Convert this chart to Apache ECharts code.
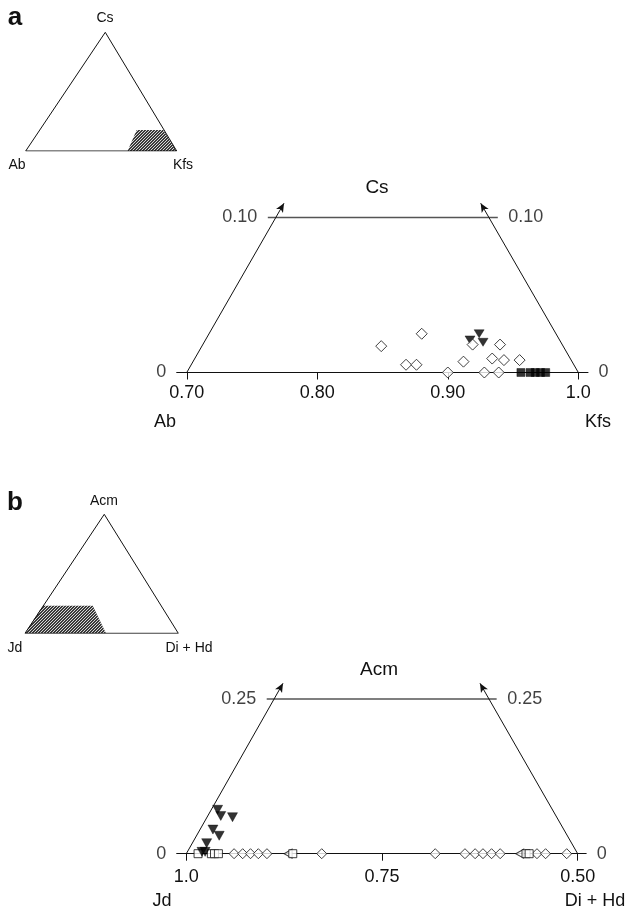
<!DOCTYPE html>
<html>
<head>
<meta charset="utf-8">
<script src="https://cdn.jsdelivr.net/npm/echarts@6/dist/echarts.min.js"></script>
<style>
  html, body { margin: 0; padding: 0; background: #fff; }
  #chart { width: 632px; height: 910px; }
</style>
</head>
<body>
<div id="chart"></div>
<script>
// ---------- Panel a: Ab – Kfs – Cs (alkali feldspar) ----------
const aTickValues = [0.70, 0.80, 0.90, 1.0];
const aTickLabels = ['0.70', '0.80', '0.90', '1.0'];
const aCsLabels = ['0', '0.10'];
// [Kfs position along base, Cs]
const aDiamonds = [
  [0.849, 0.017], [0.880, 0.025], [0.868, 0.005], [0.876, 0.005],
  [0.900, 0.000], [0.912, 0.007], [0.919, 0.018], [0.940, 0.018],
  [0.934, 0.009], [0.943, 0.008], [0.955, 0.008], [0.928, 0.000],
  [0.939, 0.000]
];
const aTriangles = [[0.917, 0.021], [0.924, 0.025], [0.927, 0.0195]];
const aSquares = [[0.956, 0], [0.963, 0], [0.967, 0], [0.971, 0], [0.975, 0]];

// ---------- Panel b: Jd – Di+Hd – Acm (pyroxene) ----------
const bTickValues = [1.0, 0.75, 0.50];
const bTickLabels = ['1.0', '0.75', '0.50'];
const bAcmLabels = ['0', '0.25'];
// [Jd position along base, Acm]
const bTriangles = [
  [0.960, 0.071], [0.956, 0.061], [0.941, 0.059], [0.966, 0.039],
  [0.958, 0.029], [0.974, 0.017], [0.980, 0.003], [0.976, 0.003]
];
const bSquares = [[0.985, 0], [0.968, 0], [0.964, 0], [0.959, 0], [0.864, 0], [0.566, 0], [0.562, 0]];
const bLeftTriangles = [[0.870, 0], [0.574, 0]];
const bDiamonds = [
  [0.939, 0], [0.928, 0], [0.918, 0], [0.908, 0], [0.897, 0],
  [0.827, 0], [0.682, 0], [0.644, 0], [0.631, 0], [0.621, 0],
  [0.610, 0], [0.599, 0], [0.552, 0], [0.541, 0], [0.514, 0]
];

// ---------- Diagram frames (data units of each panel) ----------
const aFrame = { base: [0.6923, 1.0074], top: [0.7621, 0.9383], level: 0.10,
  feet: [0.70, 1.0], tips: [[0.7745, 0.1092], [0.9252, 0.1092]] };
const bFrame = { base: [0.4891, 1.0123], top: [0.8973, 0.6035], level: 0.25,
  feet: [1.0, 0.50], tips: [[0.8765, 0.2754], [0.6248, 0.2754]] };

// Inset ternary sketches (normalised base/height units)
const insetA = { triangle: [[0, 0], [1, 0], [0.527, 1], [0, 0]],
  field: [[0.675, 0], [0.735, 0.177], [0.911, 0.177], [1, 0]] };
const insetB = { triangle: [[0, 0], [1, 0], [0.517, 1], [0, 0]],
  field: [[0, 0], [0.116, 0.232], [0.442, 0.232], [0.528, 0]] };

const FONT = '"Liberation Sans", Arial, Helvetica, sans-serif';
const INK = '#111';

function nearestLabel(values, labels, v) {
  let best = 0;
  values.forEach((t, i) => { if (Math.abs(t - v) < Math.abs(values[best] - v)) best = i; });
  return labels[best];
}

// fine stipple used for the shaded composition fields
function stipple() {
  const c = document.createElement('canvas');
  c.width = 3; c.height = 3;
  const g = c.getContext('2d');
  g.fillStyle = '#3a3a3a'; g.fillRect(0, 0, 3, 3);
  g.fillStyle = '#d8d8d8';
  g.fillRect(0, 0, 1, 1); g.fillRect(2, 1, 1, 1); g.fillRect(1, 2, 1, 1);
  return c;
}
const stipplePattern = { image: stipple(), repeat: 'repeat' };

function baseAxis(gridIndex, frame, inverse, ticks, labels, margin) {
  return {
    type: 'value', gridIndex, inverse,
    min: Math.min(frame.base[0], frame.base[1]),
    max: Math.max(frame.base[0], frame.base[1]),
    axisLine: { show: true, onZero: false, lineStyle: { color: INK, width: 1 } },
    axisTick: { show: true, customValues: ticks, length: 7, lineStyle: { color: INK, width: 1 } },
    axisLabel: {
      show: true, customValues: ticks, margin, color: INK, fontSize: 18, fontFamily: FONT,
      formatter: v => nearestLabel(ticks, labels, v)
    },
    splitLine: { show: false }
  };
}
function hiddenAxis(gridIndex, min, max) {
  return { type: 'value', gridIndex, min, max, show: false, splitLine: { show: false } };
}

function frameSeries(idx, frame, levelLabels) {
  const lo = Math.min(frame.base[0], frame.base[1]);
  const hi = Math.max(frame.base[0], frame.base[1]);
  const leftBase = frame.feet[0] > frame.feet[1] ? hi : lo;
  const rightBase = leftBase === hi ? lo : hi;
  const lbl = (pos, text) => ({ show: true, position: pos, distance: 10, formatter: text,
    color: INK, fontSize: 18, fontFamily: FONT });
  return [
    {
      type: 'line', name: 'frame-top', xAxisIndex: idx, yAxisIndex: idx,
      data: [[frame.top[0], frame.level], [frame.top[1], frame.level]],
      symbol: 'none', silent: true, animation: false,
      lineStyle: { color: '#555', width: 1.6 },
      markLine: {
        silent: true, animation: false, symbol: ['none', 'arrow'], symbolSize: [6, 9],
        lineStyle: { color: INK, width: 1, type: 'solid' }, label: { show: false },
        data: [
          [{ coord: [frame.feet[0], 0] }, { coord: frame.tips[0] }],
          [{ coord: [frame.feet[1], 0] }, { coord: frame.tips[1] }]
        ]
      }
    },
    {
      type: 'scatter', name: 'frame-labels', xAxisIndex: idx, yAxisIndex: idx,
      symbolSize: 1, itemStyle: { color: 'rgba(0,0,0,0)' }, silent: true, animation: false,
      data: [
        { value: [leftBase, 0], label: lbl('left', levelLabels[0]) },
        { value: [rightBase, 0], label: lbl('right', levelLabels[0]) },
        { value: [frame.top[0], frame.level], label: lbl('left', levelLabels[1]) },
        { value: [frame.top[1], frame.level], label: lbl('right', levelLabels[1]) }
      ]
    }
  ];
}

function marks(idx, name, data, symbol, size, filled, rotate) {
  return {
    type: 'scatter', name, xAxisIndex: idx, yAxisIndex: idx, data,
    symbol, symbolSize: size, symbolRotate: rotate || 0, animation: false,
    itemStyle: filled ? { color: '#000', borderColor: '#000', borderWidth: 0.5 }
                      : { color: '#fff', borderColor: INK, borderWidth: 1 }
  };
}

function insetSeries(idx, sketch) {
  return [
    {
      type: 'line', name: 'field', xAxisIndex: idx, yAxisIndex: idx, data: sketch.field,
      symbol: 'none', silent: true, animation: false,
      lineStyle: { width: 0 }, areaStyle: { color: stipplePattern, opacity: 1 }
    },
    {
      type: 'line', name: 'outline', xAxisIndex: idx, yAxisIndex: idx, data: sketch.triangle,
      symbol: 'none', silent: true, animation: false,
      lineStyle: { color: INK, width: 1 }
    }
  ];
}

function text(t, x, y, size, bold) {
  return {
    type: 'text', x, y, silent: true,
    style: { text: t, fill: INK, font: (bold ? 'bold ' : '') + size + 'px ' + FONT,
      textAlign: 'center', textVerticalAlign: 'middle', align: 'center', verticalAlign: 'middle' }
  };
}

const chart = echarts.init(document.getElementById('chart'), null, { renderer: 'canvas' });
chart.setOption({
  animation: false,
  backgroundColor: '#fff',
  grid: [
    { left: 176.7, width: 411.3, top: 186.5, height: 186 },     // a main
    { left: 176.7, width: 409.5, top: 668.1, height: 185.6 },   // b main
    { left: 25.7, width: 151, top: 32.3, height: 118.7 },       // a inset
    { left: 25, width: 153.3, top: 514.3, height: 119 }         // b inset
  ],
  xAxis: [
    baseAxis(0, aFrame, false, aTickValues, aTickLabels, 12),
    baseAxis(1, bFrame, true, bTickValues, bTickLabels, 14),
    hiddenAxis(2, 0, 1),
    hiddenAxis(3, 0, 1)
  ],
  yAxis: [
    hiddenAxis(0, 0, 0.12),
    hiddenAxis(1, 0, 0.30),
    hiddenAxis(2, 0, 1),
    hiddenAxis(3, 0, 1)
  ],
  series: [
    ...frameSeries(0, aFrame, aCsLabels),
    marks(0, 'a-triangles', aTriangles, 'triangle', [10, 8], true, 180),
    marks(0, 'a-squares', aSquares, 'rect', [8, 8], true),
    marks(0, 'a-diamonds', aDiamonds, 'diamond', [11, 11], false),

    ...frameSeries(1, bFrame, bAcmLabels),
    marks(1, 'b-diamonds', bDiamonds, 'diamond', [10, 10], false),
    marks(1, 'b-left-triangles', bLeftTriangles, 'triangle', [9, 8], false, 90),
    marks(1, 'b-squares', bSquares, 'rect', [8, 8], false),
    marks(1, 'b-triangles', bTriangles, 'triangle', [10, 9], true, 180),

    ...insetSeries(2, insetA),
    ...insetSeries(3, insetB)
  ],
  graphic: [
    text('a', 15, 18, 26, true),
    text('Cs', 105, 18, 14),
    text('Ab', 17, 165, 14),
    text('Kfs', 183, 165, 14),
    text('Cs', 377, 188, 19),
    text('Ab', 165, 422, 18),
    text('Kfs', 598, 422, 18),

    text('b', 15, 503, 26, true),
    text('Acm', 104, 501, 14),
    text('Jd', 15, 648, 14),
    text('Di + Hd', 189, 648, 14),
    text('Acm', 379, 670, 19),
    text('Jd', 162, 901, 18),
    text('Di + Hd', 595, 901, 18)
  ]
});
</script>
</body>
</html>
